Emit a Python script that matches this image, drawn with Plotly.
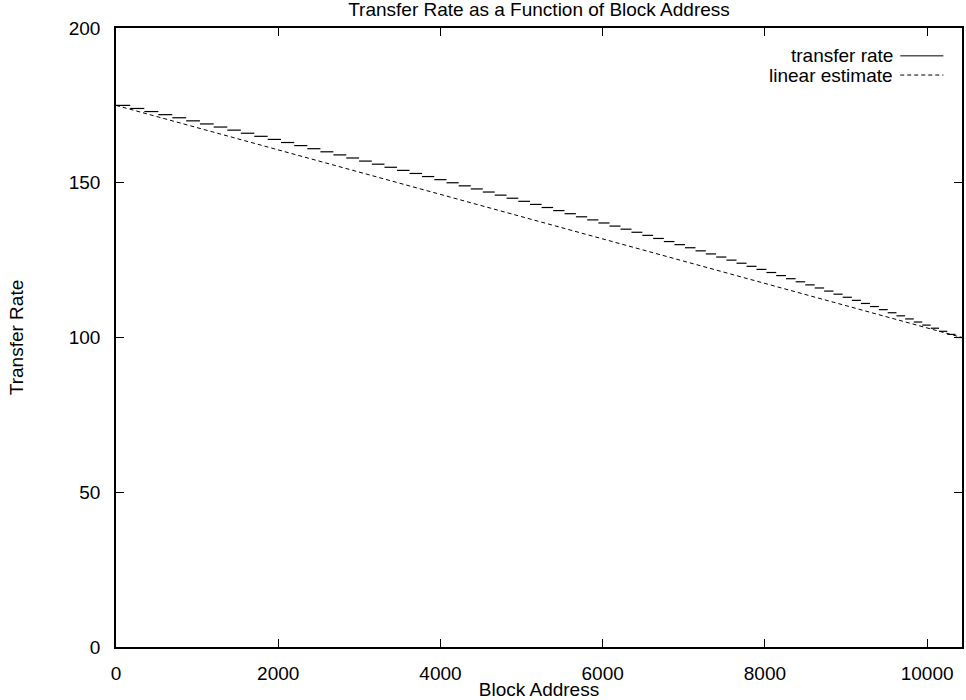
import plotly.graph_objects as go

# Transfer rate: one flat step per integer rate value, starting at the given block address
rate_values = [175, 174, 173, 172, 171, 170, 169, 168, 167, 166, 165, 164, 163, 162, 161,
               160, 159, 158, 157, 156, 155, 154, 153, 152, 151, 150, 149, 148, 147, 146,
               145, 144, 143, 142, 141, 140, 139, 138, 137, 136, 135, 134, 133, 132, 131,
               130, 129, 128, 127, 126, 125, 124, 123, 122, 121, 120, 119, 118, 117, 116,
               115, 114, 113, 112, 111, 110, 109, 108, 107, 106, 105, 104, 103, 102, 101, 100]
step_starts = [0, 175, 349, 522, 694, 865, 1035, 1204, 1372, 1539, 1705, 1870, 2034, 2197, 2359,
               2520, 2680, 2839, 2997, 3154, 3310, 3465, 3619, 3772, 3924, 4075, 4225, 4374, 4522, 4669,
               4815, 4960, 5104, 5247, 5389, 5530, 5670, 5809, 5947, 6084, 6220, 6355, 6489, 6622, 6754,
               6885, 7015, 7144, 7272, 7399, 7525, 7650, 7774, 7897, 8019, 8140, 8260, 8379, 8497, 8614,
               8730, 8845, 8959, 9072, 9184, 9295, 9405, 9514, 9622, 9729, 9835, 9940, 10044, 10147, 10249, 10350]
last_address = 10430

# Linear estimate end points
linear_x = [0, 10430]
linear_y = [175, 100]

x_ticks = [0, 2000, 4000, 6000, 8000, 10000]
x_tick_labels = ["0", "2000", "4000", "6000", "8000", "10000"]
y_ticks = [0, 50, 100, 150, 200]
y_tick_labels = ["0", "50", "100", "150", "200"]

title_text = "Transfer Rate as a Function of Block Address"
x_title = "Block Address"
y_title = "Transfer Rate"
legend_names = ["transfer rate", "linear estimate"]

FONT = "Liberation Sans, Arial, Helvetica, sans-serif"
FS = 19

ends = step_starts[1:] + [last_address]
sx, sy = [], []
for s, e, r in zip(step_starts, ends, rate_values):
    sx += [s, e, None]
    sy += [r, r, None]

fig = go.Figure()
fig.add_trace(go.Scatter(x=sx, y=sy, mode="lines", name=legend_names[0],
                         line=dict(color="black", width=1.2), connectgaps=False,
                         showlegend=False))
fig.add_trace(go.Scatter(x=linear_x, y=linear_y, mode="lines", name=legend_names[1],
                         line=dict(color="black", width=1, dash="4px,3px"),
                         showlegend=False))

axis_common = dict(showline=True, linecolor="black", linewidth=1.5, mirror="allticks",
                   ticks="inside", ticklen=8, tickcolor="black", tickwidth=1.2,
                   showgrid=False, zeroline=False,
                   tickfont=dict(family=FONT, size=FS, color="black"))

fig.update_xaxes(range=[0, last_address], tickvals=x_ticks, ticktext=x_tick_labels,
                 ticklabelstandoff=8,
                 title=dict(text=x_title, font=dict(family=FONT, size=FS, color="black"), standoff=1),
                 **axis_common)
fig.update_yaxes(range=[0, 200], tickvals=y_ticks, ticktext=y_tick_labels, ticklabelstandoff=10,
                 title=dict(text=y_title, font=dict(family=FONT, size=FS, color="black"), standoff=40),
                 **axis_common)

# Gnuplot-style key: text right-aligned, line sample to its right
key_rows = [(0.955, legend_names[0], "solid"), (0.924, legend_names[1], "4px,3px")]
for yk, name, dash in key_rows:
    fig.add_annotation(x=0.921, y=yk, xref="paper", yref="paper", text=name, showarrow=False,
                       xanchor="right", yanchor="middle",
                       font=dict(family=FONT, size=FS, color="black"))
    fig.add_shape(type="line", xref="paper", yref="paper", x0=0.927, x1=0.978, y0=yk, y1=yk,
                  line=dict(color="black", width=1, dash=dash))

fig.update_layout(
    width=966, height=700,
    margin=dict(l=116, r=2, t=28, b=52),
    paper_bgcolor="white", plot_bgcolor="white",
    title=dict(text=title_text, x=0.5, xref="paper", xanchor="center", y=0.987, yref="container",
               yanchor="middle", font=dict(family=FONT, size=FS, color="black")),
    showlegend=False,
    font=dict(family=FONT, color="black"),
)

fig.write_html("out.html")
